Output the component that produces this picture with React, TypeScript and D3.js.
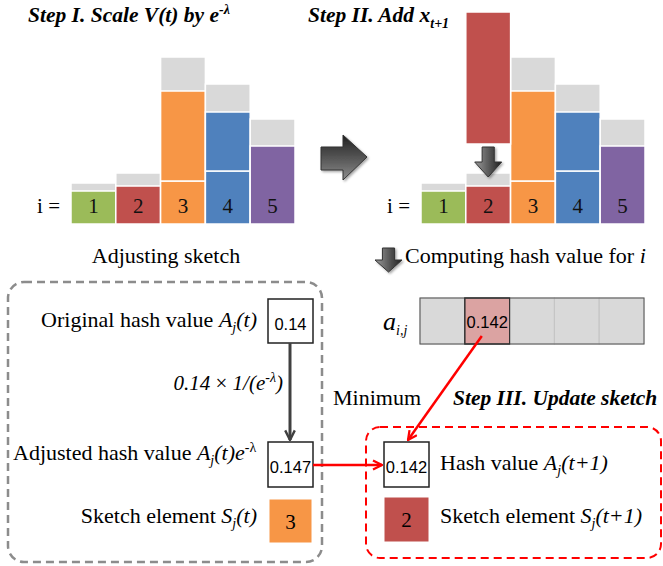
import React from 'react';
import * as d3 from 'd3';

// sketch items (i) and their colours
const categories = ['1', '2', '3', '4', '5'];
const barColors = ['#9bbb59', '#c0504d', '#f79646', '#4f81bd', '#8064a2'];
// scaled weights V(t)e^-λ, stacked pieces per item
const scaledSegments = [[33], [38], [43, 90], [53, 59], [78]];
// original weights V(t) (grey)
const originalTotals = [41, 51, 167, 140, 105];
// new arriving element x_{t+1}
const newItem = '2';
const newItemValue = 132;
const newItemBase = 80;
// hash values a_{i,j}
const hashCells = ['', '0.142', '', '', ''];
const hashHighlight = '2';
// sketch state
const originalHash = '0.14';
const adjustedHash = '0.147';
const newHash = '0.142';
const oldElement = '3';
const newElement = '2';

const serif = { fontFamily: "'Liberation Serif', 'DejaVu Serif', serif" };
const sans = { fontFamily: "'Liberation Sans', 'DejaVu Sans', sans-serif" };
const TXT = 22;
const SUB = 14;
const NUM = 16.5;

const y = d3.scaleLinear().domain([0, 200]).range([224, 24]);
const xLeft = d3.scaleBand().domain(categories).range([71, 295]);
const xRight = d3.scaleBand().domain(categories).range([421, 645]);
const xHash = d3.scaleBand().domain(categories).range([420, 644]);

function Bars({ x }: { x: d3.ScaleBand<string> }) {
  const w = x.bandwidth();
  return (
    <g>
      {categories.map((c, i) => {
        let acc = 0;
        return (
          <g key={c}>
            <rect x={x(c)} y={y(originalTotals[i])} width={w} height={y(0) - y(originalTotals[i])} fill="#d9d9d9" stroke="#fff" strokeWidth={1.5} />
            {scaledSegments[i].map((v, k) => {
              const y0 = acc;
              acc += v;
              return (
                <rect key={k} x={x(c)} y={y(acc)} width={w} height={y(y0) - y(acc)} fill={barColors[i]} stroke="#fff" strokeWidth={1.5} />
              );
            })}
            <text x={(x(c) as number) + w / 2} y={213} textAnchor="middle" style={serif} fontSize={21} fill="#111">{c}</text>
          </g>
        );
      })}
    </g>
  );
}

function BlockArrowRight({ x0, y0 }: { x0: number; y0: number }) {
  const d = `M${x0},${y0 + 12} H${x0 + 22} V${y0} L${x0 + 46},${y0 + 22} L${x0 + 22},${y0 + 45} V${y0 + 35} H${x0} Z`;
  return <path d={d} fill="url(#arrowGrad)" stroke="#333" strokeWidth={1} filter="url(#shadow)" />;
}

function BlockArrowDown({ cx, y0, w, h }: { cx: number; y0: number; w: number; h: number }) {
  const sw = w * 0.45;
  const sh = h * 0.5;
  const d = `M${cx - sw / 2},${y0} H${cx + sw / 2} V${y0 + sh} H${cx + w / 2} L${cx},${y0 + h} L${cx - w / 2},${y0 + sh} H${cx - sw / 2} Z`;
  return <path d={d} fill="url(#arrowGradH)" stroke="#333" strokeWidth={1} filter="url(#shadow)" />;
}

export default function App() {
  const bw = xHash.bandwidth();
  const hx = xHash(hashHighlight) as number;
  const nx = xRight(newItem) as number;
  return (
    <svg width={663} height={566} viewBox="0 0 663 566" style={{ position: 'absolute', left: 0, top: 0, background: '#fff' }}>
      <defs>
        <linearGradient id="arrowGrad" x1="0" y1="0" x2="0" y2="1">
          <stop offset="0" stopColor="#1e1e1e" />
          <stop offset="1" stopColor="#8c8c8c" />
        </linearGradient>
        <linearGradient id="arrowGradH" x1="0" y1="0" x2="1" y2="0">
          <stop offset="0" stopColor="#9a9a9a" />
          <stop offset="1" stopColor="#1e1e1e" />
        </linearGradient>
        <filter id="shadow" x="-20%" y="-20%" width="150%" height="150%">
          <feDropShadow dx="1.5" dy="1.5" stdDeviation="1.2" floodColor="#000" floodOpacity="0.35" />
        </filter>
        <marker id="headGray" viewBox="0 0 10 10" refX="9" refY="5" markerWidth="4" markerHeight="4" orient="auto">
          <path d="M1,1 L9,5 L1,9" fill="none" stroke="#404040" strokeWidth={2} />
        </marker>
        <marker id="headRed" viewBox="0 0 10 10" refX="9" refY="5" markerWidth="4.5" markerHeight="4.5" orient="auto">
          <path d="M1,1 L9,5 L1,9" fill="none" stroke="#ff0000" strokeWidth={2} />
        </marker>
      </defs>

      {/* Step I */}
      <text x={28} y={22} style={serif} fontSize={21.5} fontWeight="bold" fontStyle="italic">
        Step I. Scale V(t) by e<tspan fontSize={SUB} dy={-8}>-λ</tspan>
      </text>
      <Bars x={xLeft} />
      <text x={60} y={213} textAnchor="end" style={serif} fontSize={21}>i =</text>

      <BlockArrowRight x0={321} y0={135} />

      {/* Step II */}
      <text x={308} y={22} style={serif} fontSize={21.5} fontWeight="bold" fontStyle="italic">
        Step II. Add x<tspan fontSize={SUB} dy={6}>t+1</tspan>
      </text>
      <Bars x={xRight} />
      <rect x={nx} y={y(newItemBase + newItemValue)} width={xRight.bandwidth()} height={newItemValue} fill={barColors[categories.indexOf(newItem)]} stroke="#fff" strokeWidth={1.5} />
      <BlockArrowDown cx={nx + xRight.bandwidth() / 2} y0={147} w={27} h={30} />
      <text x={410} y={213} textAnchor="end" style={serif} fontSize={21}>i =</text>

      {/* Adjusting sketch */}
      <text x={166} y={263} textAnchor="middle" style={serif} fontSize={TXT}>Adjusting sketch</text>
      <rect x={8} y={282} width={314} height={280} rx={16} fill="none" stroke="#8c8c8c" strokeWidth={2.5} strokeDasharray="8 5" />

      <text x={257} y={327} textAnchor="end" style={serif} fontSize={TXT}>
        Original hash value <tspan fontStyle="italic">A</tspan><tspan fontStyle="italic" fontSize={SUB} dy={5}>j</tspan><tspan fontStyle="italic" dy={-5}>(t)</tspan>
      </text>
      <rect x={268} y={299} width={45} height={44} fill="#fff" stroke="#222" strokeWidth={1.5} />
      <text x={290.5} y={330} textAnchor="middle" style={sans} fontSize={NUM}>{originalHash}</text>

      <line x1={290} y1={343} x2={290} y2={440} stroke="#404040" strokeWidth={3} markerEnd="url(#headGray)" />
      <text x={283} y={390} textAnchor="end" style={serif} fontSize={21} fontStyle="italic">
        0.14<tspan fontStyle="normal"> × </tspan>1/(e<tspan fontSize={SUB} dy={-8}>-λ</tspan><tspan dy={8}>)</tspan>
      </text>

      <text x={13} y={460} style={serif} fontSize={TXT}>
        Adjusted hash value <tspan fontStyle="italic">A</tspan><tspan fontStyle="italic" fontSize={SUB} dy={5}>j</tspan><tspan fontStyle="italic" dy={-5}>(t)e</tspan><tspan fontSize={SUB} dy={-8}>-λ</tspan>
      </text>
      <rect x={268} y={442} width={45} height={45} fill="#fff" stroke="#222" strokeWidth={1.5} />
      <text x={290.5} y={473} textAnchor="middle" style={sans} fontSize={NUM}>{adjustedHash}</text>

      <text x={257} y={523} textAnchor="end" style={serif} fontSize={TXT}>
        Sketch element  <tspan fontStyle="italic">S</tspan><tspan fontStyle="italic" fontSize={SUB} dy={5}>j</tspan><tspan fontStyle="italic" dy={-5}>(t)</tspan>
      </text>
      <rect x={269} y={499} width={43} height={44} fill={barColors[categories.indexOf(oldElement)]} stroke="#fff" strokeWidth={1} />
      <text x={290.5} y={529} textAnchor="middle" style={serif} fontSize={21}>{oldElement}</text>

      {/* Computing hash */}
      <BlockArrowDown cx={388.5} y0={248} w={27} h={24} />
      <text x={405} y={263} style={serif} fontSize={TXT}>
        Computing hash value for <tspan fontStyle="italic">i</tspan>
      </text>

      <text x={383} y={330} style={serif} fontSize={26} fontStyle="italic">
        a<tspan fontSize={SUB} dy={5}>i,j</tspan>
      </text>
      {categories.map((c) => (
        <rect key={c} x={xHash(c)} y={298} width={bw} height={46} fill={c === hashHighlight ? '#dba3a2' : '#d9d9d9'} stroke={c === hashHighlight ? '#333' : '#c4c4c4'} strokeWidth={1} />
      ))}
      <rect x={xHash(categories[0])} y={298} width={bw * categories.length} height={46} fill="none" stroke="#555" strokeWidth={1} />
      <rect x={hx} y={298} width={bw} height={46} fill="none" stroke="#333" strokeWidth={1.2} />
      {categories.map((c, i) => hashCells[i] ? (
        <text key={c} x={(xHash(c) as number) + bw / 2} y={328} textAnchor="middle" style={sans} fontSize={NUM}>{hashCells[i]}</text>
      ) : null)}

      <line x1={hx + 17} y1={336} x2={408} y2={440} stroke="#ff0000" strokeWidth={2.5} markerEnd="url(#headRed)" />

      <text x={333} y={405} style={serif} fontSize={TXT}>Minimum</text>
      <text x={453} y={405} style={serif} fontSize={21.5} fontWeight="bold" fontStyle="italic">Step III. Update sketch</text>

      {/* Update sketch */}
      <rect x={366} y={427} width={295} height={131} rx={14} fill="none" stroke="#ff0000" strokeWidth={2} strokeDasharray="8 5" />
      <line x1={313} y1={465} x2={382} y2={465} stroke="#ff0000" strokeWidth={2.5} markerEnd="url(#headRed)" />

      <rect x={384} y={442} width={45} height={45} fill="#fff" stroke="#222" strokeWidth={1.5} />
      <text x={406.5} y={473} textAnchor="middle" style={sans} fontSize={NUM}>{newHash}</text>
      <text x={440} y={470} style={serif} fontSize={TXT}>
        Hash value <tspan fontStyle="italic">A</tspan><tspan fontStyle="italic" fontSize={SUB} dy={5}>j</tspan><tspan fontStyle="italic" dy={-5}>(t+1)</tspan>
      </text>

      <rect x={384} y={497} width={45} height={45} fill={barColors[categories.indexOf(newElement)]} stroke="#fff" strokeWidth={1} />
      <text x={406.5} y={527} textAnchor="middle" style={serif} fontSize={21}>{newElement}</text>
      <text x={440} y={523} style={serif} fontSize={TXT}>
        Sketch element <tspan fontStyle="italic">S</tspan><tspan fontStyle="italic" fontSize={SUB} dy={5}>j</tspan><tspan fontStyle="italic" dy={-5}>(t+1)</tspan>
      </text>
    </svg>
  );
}
